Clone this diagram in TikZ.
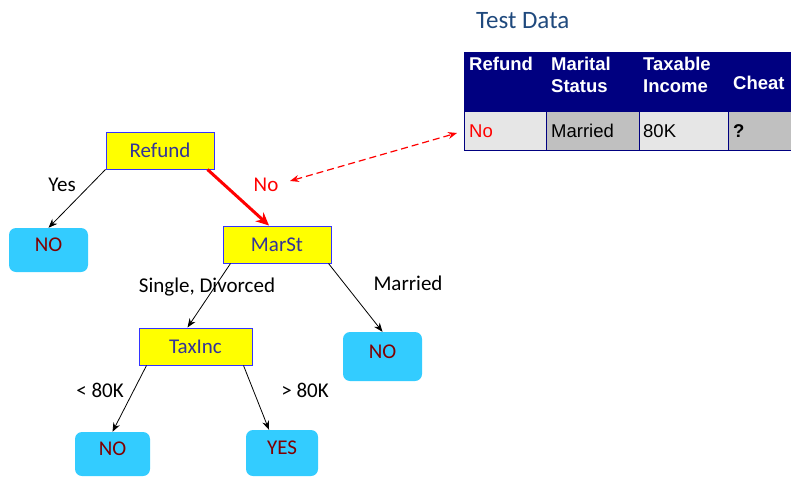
\documentclass[tikz,border=0pt]{standalone}
\usepackage{fontspec}
\setmainfont{Carlito}
\newfontfamily\tablefont{Liberation Sans}
\usetikzlibrary{calc,arrows.meta}
\definecolor{boxyellow}{HTML}{FFFF00}
\definecolor{boxblue}{HTML}{3333FF}
\definecolor{boxtext}{HTML}{333399}
\definecolor{leafcyan}{HTML}{33CCFF}
\definecolor{leaftext}{HTML}{800000}
\definecolor{headnavy}{HTML}{000080}
\definecolor{titleblue}{HTML}{1F497D}
\definecolor{celllight}{HTML}{E6E6E6}
\definecolor{celldark}{HTML}{C0C0C0}
\tikzset{
  attr/.style={draw=boxblue, line width=1pt, fill=boxyellow, text=boxtext,
    minimum height=37pt, inner sep=0pt, font=\fontsize{21}{25}\selectfont},
  leaf/.style={fill=leafcyan, rounded corners=7pt, text=leaftext, inner sep=0pt,
    text depth=10pt, font=\fontsize{21}{25}\selectfont},
  branch/.style={inner sep=0pt, font=\fontsize{21}{25}\selectfont},
  cell/.style={anchor=west, inner sep=0pt, font=\tablefont\fontsize{18.5}{22}\selectfont},
  head/.style={anchor=west, inner sep=0pt, text=white, align=left,
    font=\tablefont\bfseries\fontsize{18.5}{22}\selectfont},
  link/.style={-{Stealth[length=9pt,width=7pt]}, line width=0.8pt},
}

\begin{document}
\begin{tikzpicture}[x=1pt, y=-1pt]
    \useasboundingbox (0,0) rectangle (791,476);

    % coordinates to be reused
    \coordinate (pRefund) at (160,150.5);
    \coordinate (pMarSt) at (277,244.5);
    \coordinate (pTaxInc) at (195.5,346.5);
    \coordinate (pNOyes) at (48.5,250);
    \coordinate (pNOmar) at (382.5,356.5);
    \coordinate (pNOlow) at (112.5,454);
    \coordinate (pYES) at (282,453);
    \coordinate (dashA) at (290,181);
    \coordinate (dashB) at (457,133);

    % test data table
    \node [anchor=west, inner sep=0pt, text=titleblue, font=\fontsize{25}{30}\selectfont] (title) at (476,21) {Test Data};
    \fill [headnavy] (464,52) rectangle (791,112);
    \foreach \xa/\xb/\c in {464/546/celllight, 546/639/celldark, 639/728/celllight, 728/791/celldark}
      \fill [\c] (\xa,112) rectangle (\xb,150);
    \foreach \x in {464,546,639,728}
      \draw [headnavy, line width=1pt] (\x,112) -- (\x,150);
    \draw [headnavy, line width=1pt] (464,150) -- (791,150);
    \node [head] (hRefund) at (469,64) {Refund};
    \node [head] (hMarital) at (551,75) {Marital\\Status};
    \node [head] (hTaxable) at (643,75) {Taxable\\Income};
    \node [head] (hCheat) at (733,83) {Cheat};
    \node [cell, text=red] (cNo) at (469,131) {No};
    \node [cell] (cMarried) at (551,131) {Married};
    \node [cell] (cIncome) at (643,131) {80K};
    \node [cell, font=\tablefont\bfseries\fontsize{18.5}{22}\selectfont] (cCheat) at (733,131) {?};

    % draw tree
    \node [attr, minimum width=108pt] (Refund) at (pRefund) {Refund};
    \node [attr, minimum width=108pt] (MarSt) at (pMarSt) {MarSt};
    \node [attr, minimum width=113pt] (TaxInc) at (pTaxInc) {TaxInc};
    \node [leaf, minimum width=79pt, minimum height=44pt] (NOyes) at (pNOyes) {NO};
    \node [leaf, minimum width=79pt, minimum height=49pt] (NOmar) at (pNOmar) {NO};
    \node [leaf, minimum width=75pt, minimum height=44pt] (NOlow) at (pNOlow) {NO};
    \node [leaf, minimum width=72pt, minimum height=46pt] (YES) at (pYES) {YES};

    \draw [link] (Refund.south west) -- (NOyes.north);
    \draw [-{Stealth[length=13pt,width=12pt]}, red, line width=3pt] ([xshift=-7pt]Refund.south east) -- ([xshift=-8pt]MarSt.north);
    \draw [link] ([xshift=8pt]MarSt.south west) -- ([xshift=-8pt]TaxInc.north);
    \draw [link] ([xshift=-3pt]MarSt.south east) -- (NOmar.north);
    \draw [link] ([xshift=8pt]TaxInc.south west) -- (NOlow.north);
    \draw [link] ([xshift=-9pt]TaxInc.south east) -- ([xshift=-13pt]YES.north);
    \draw [red, line width=1.2pt, dash pattern=on 7pt off 4pt,
      {Stealth[length=9pt,width=7pt]}-{Stealth[length=9pt,width=7pt]}] (dashA) -- (dashB);

    % add labels
    \node [branch] (lYes) at (62,185) {Yes};
    \node [branch, text=red] (lNo) at (266,185) {No};
    \node [branch] (lSingle) at (207,287) {Single, Divorced};
    \node [branch] (lMarried) at (408,283) {Married};
    \node [branch] (lLow) at (100,390) {< 80K};
    \node [branch] (lHigh) at (305,390) {> 80K};
\end{tikzpicture}
\end{document}
